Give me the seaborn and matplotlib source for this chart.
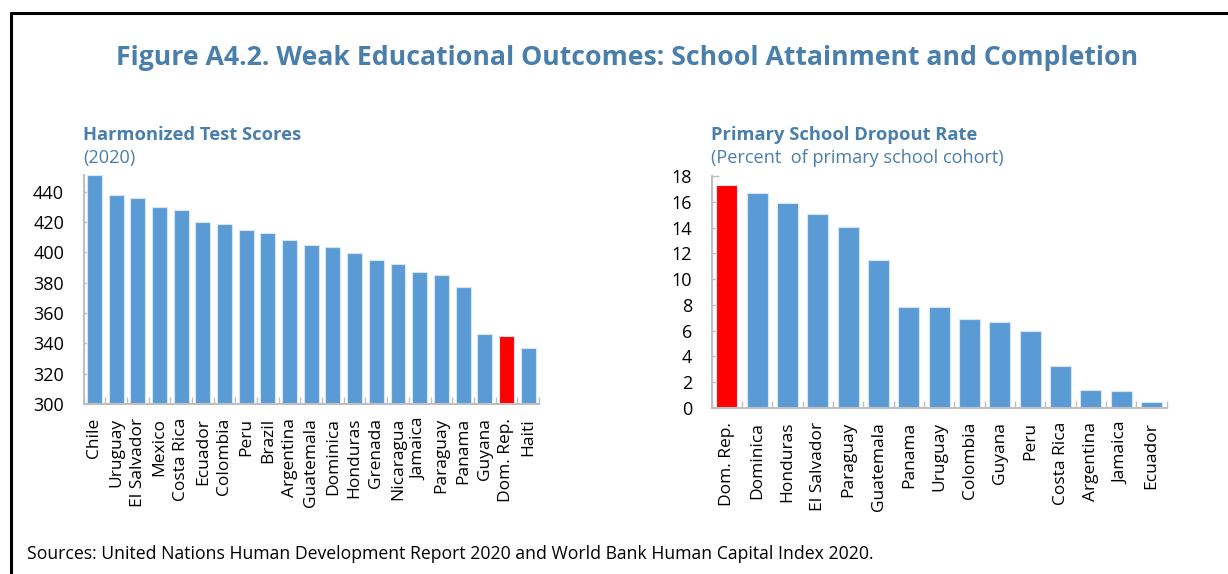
import matplotlib
matplotlib.use("Agg")
import matplotlib.pyplot as plt
from matplotlib.lines import Line2D
from matplotlib.ticker import MultipleLocator, FixedLocator
import seaborn as sns
import pandas as pd

# ---- data ----
test_countries = ["Chile", "Uruguay", "El Salvador", "Mexico", "Costa Rica", "Ecuador",
                  "Colombia", "Peru", "Brazil", "Argentina", "Guatemala", "Dominica",
                  "Honduras", "Grenada", "Nicaragua", "Jamaica", "Paraguay", "Panama",
                  "Guyana", "Dom. Rep.", "Haiti"]
test_scores = [451, 438, 436, 430, 428, 420, 419, 415, 413, 408, 405, 403.5,
               399.5, 395, 392, 387, 385, 377, 346, 345, 337]

drop_countries = ["Dom. Rep.", "Dominica", "Honduras", "El Salvador", "Paraguay", "Guatemala",
                  "Panama", "Uruguay", "Colombia", "Guyana", "Peru", "Costa Rica",
                  "Argentina", "Jamaica", "Ecuador"]
drop_rates = [17.3, 16.7, 15.9, 15.05, 14.05, 11.45, 7.85, 7.83, 6.9, 6.65, 6.0, 3.25,
              1.37, 1.34, 0.45]

highlight = "Dom. Rep."

title = "Figure A4.2. Weak Educational Outcomes: School Attainment and Completion"
left_title = "Harmonized Test Scores"
left_sub = "(2020)"
right_title = "Primary School Dropout Rate"
right_sub = "(Percent  of primary school cohort)"
source = "Sources: United Nations Human Development Report 2020 and World Bank Human Capital Index 2020."

BLUE = "#5B9BD5"
RED = "#FF0000"
TCOL = "#4A7EAB"
GRID = "#BFBFBF"

sns.set_theme(style="white")
plt.rcParams["font.family"] = ["Open Sans", "DejaVu Sans"]

fig = plt.figure(figsize=(12.28, 5.74), dpi=100)
W, H = 1228, 574

def fx(px):
    return px / W

def fy(py):
    return 1 - py / H

axL = fig.add_axes([fx(83.5), fy(404), fx(539 - 83.5), (404 - 175) / H])
axR = fig.add_axes([fx(711.7), fy(408), fx(1166.7 - 711.7), (408 - 176) / H])


def draw(ax, cats, vals, ylim, step):
    df = pd.DataFrame({"c": cats, "v": vals})
    pal = {c: (RED if c == highlight else BLUE) for c in cats}
    sns.barplot(data=df, x="c", y="v", hue="c", palette=pal, order=cats,
                legend=False, width=0.69, saturation=1, ax=ax,
                edgecolor="#D6E4F3", linewidth=0.8)
    ax.set_xlim(-0.5, len(cats) - 0.5)
    ax.set_ylim(*ylim)
    ax.yaxis.set_major_locator(MultipleLocator(step))
    ax.set_xlabel("")
    ax.set_ylabel("")
    for s in ["top", "right"]:
        ax.spines[s].set_visible(False)
    for s in ["left", "bottom"]:
        ax.spines[s].set_color(GRID)
        ax.spines[s].set_linewidth(1.5)
    ax.tick_params(axis="y", direction="in", length=5, width=1, color=GRID,
                   labelsize=13, labelcolor="black", pad=14, left=True)
    ax.tick_params(axis="x", which="major", length=0, labelsize=12.5,
                   labelcolor="black", rotation=90, pad=10)
    ax.xaxis.set_minor_locator(FixedLocator([i + 0.5 for i in range(-1, len(cats))]))
    ax.tick_params(axis="x", which="minor", direction="in", length=5, width=1,
                   color=GRID, bottom=True)
    for lab in ax.get_xticklabels():
        lab.set_verticalalignment("top")


draw(axL, test_countries, test_scores, (300, 451), 20)
draw(axR, drop_countries, drop_rates, (0, 18), 2)

fig.text(fx(627), fy(58), title, ha="center", va="center", fontsize=19.2,
         fontweight="bold", color=TCOL)
fig.text(fx(83), fy(135), left_title, ha="left", va="center", fontsize=13.2,
         fontweight="bold", color=TCOL)
fig.text(fx(83), fy(158), left_sub, ha="left", va="center", fontsize=13.1, color=TCOL)
fig.text(fx(711), fy(135), right_title, ha="left", va="center", fontsize=13.2,
         fontweight="bold", color=TCOL)
fig.text(fx(711), fy(158), right_sub, ha="left", va="center", fontsize=13.1, color=TCOL)
fig.text(fx(27), fy(554), source, ha="left", va="center", fontsize=12.7, color="black")

# frame: top and left lines
fig.add_artist(Line2D([fx(11), 1], [fy(13), fy(13)], color="black", lw=2.2,
                      transform=fig.transFigure))
fig.add_artist(Line2D([fx(11), fx(11)], [fy(13), 0], color="black", lw=2.2,
                      transform=fig.transFigure))

fig.savefig("out.png", dpi=100)
